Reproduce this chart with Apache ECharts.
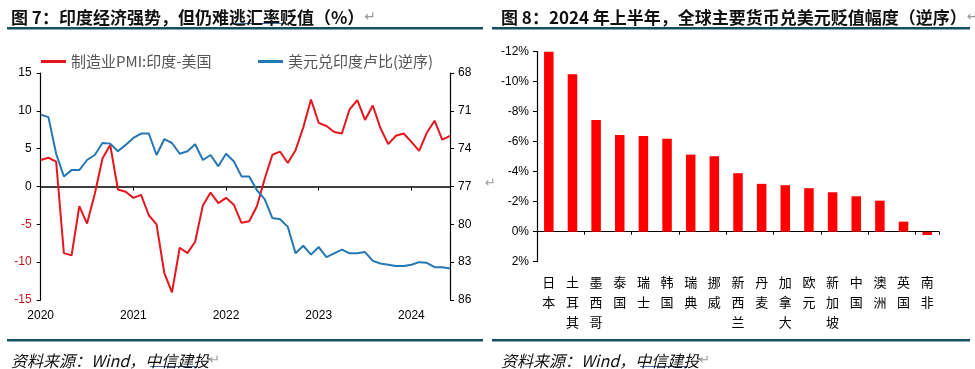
<!DOCTYPE html>
<html>
<head>
<meta charset="utf-8">
<script src="https://cdn.jsdelivr.net/npm/echarts@6/dist/echarts.min.js"></script>
<style>
html,body{margin:0;padding:0;background:#fff;}
#c{width:975px;height:369px;}
</style>
</head>
<body>
<div id="c"></div>
<script>
// ---- Figure 7 data ----
var months = ['2020-01','2020-02','2020-03','2020-04','2020-05','2020-06','2020-07','2020-08','2020-09','2020-10','2020-11','2020-12',
  '2021-01','2021-02','2021-03','2021-04','2021-05','2021-06','2021-07','2021-08','2021-09','2021-10','2021-11','2021-12',
  '2022-01','2022-02','2022-03','2022-04','2022-05','2022-06','2022-07','2022-08','2022-09','2022-10','2022-11','2022-12',
  '2023-01','2023-02','2023-03','2023-04','2023-05','2023-06','2023-07','2023-08','2023-09','2023-10','2023-11','2023-12',
  '2024-01','2024-02','2024-03','2024-04','2024-05','2024-06'];
var pmiDiff = [3.5, 3.8, 3.3, -8.8, -9.1, -2.6, -4.9, -1.0, 3.7, 5.5, -0.4, -0.7,
  -1.5, -1.1, -3.8, -5.0, -11.4, -14.0, -8.1, -8.8, -7.3, -2.5, -0.8, -2.2,
  -1.5, -2.4, -4.8, -4.6, -2.6, 1.0, 4.2, 4.6, 3.1, 4.8, 7.8, 11.5,
  8.4, 8.0, 7.2, 7.0, 10.2, 11.4, 8.8, 10.7, 7.7, 5.6, 6.7, 7.0,
  5.9, 4.7, 7.1, 8.7, 6.2, 6.7];
var usdInr = [71.3, 71.5, 74.4, 76.2, 75.7, 75.7, 74.9, 74.5, 73.55, 73.6, 74.2, 73.7,
  73.15, 72.8, 72.8, 74.5, 73.25, 73.55, 74.4, 74.2, 73.65, 74.9, 74.5, 75.4,
  74.4, 75.0, 76.2, 76.2, 77.3, 78.0, 79.5, 79.6, 80.2, 82.3, 81.7, 82.4,
  81.8, 82.6, 82.3, 82.0, 82.3, 82.3, 82.2, 82.9, 83.1, 83.2, 83.3, 83.3,
  83.2, 83.0, 83.05, 83.4, 83.4, 83.5];
var seriesNames7 = ['制造业PMI:印度-美国', '美元兑印度卢比(逆序)'];

// ---- Figure 8 data ----
var currencies = ['日本','土耳其','墨西哥','泰国','瑞士','韩国','瑞典','挪威','新西兰','丹麦','加拿大','欧元','新加坡','中国','澳洲','英国','南非'];
var depreciation = [-12.05, -10.5, -7.45, -6.44, -6.38, -6.2, -5.14, -5.03, -3.9, -3.19, -3.1, -2.9, -2.63, -2.36, -2.07, -0.67, 0.22];

var titles = ['图 7：印度经济强势，但仍难逃汇率贬值（%）', '图 8：2024 年上半年，全球主要货币兑美元贬值幅度（逆序）'];
var sourceText = '资料来源：Wind，中信建投';

var CJK = '"Noto Sans CJK SC", sans-serif';
var NUM = '"Liberation Sans", Arial, sans-serif';
var RED = '#e5161d', BLUE = '#2577b3', RULE = '#174e62';

var chart = echarts.init(document.getElementById('c'), null, {renderer: 'canvas'});

function titleItem(text, left, top, bold, italic, size) {
  return {
    text: text + '{r|↵}', left: left, top: top,
    textStyle: {fontFamily: CJK, fontSize: size, fontWeight: bold ? 'bold' : 'normal',
      fontStyle: italic ? 'italic' : 'normal', color: '#111',
      rich: {r: {color: '#999', fontSize: size - 3, fontWeight: 'normal', fontStyle: 'normal', fontFamily: '"DejaVu Sans", sans-serif'}}}
  };
}

var axisBlack = {lineStyle: {color: '#000', width: 1.2}};

chart.setOption({
  animation: false,
  backgroundColor: '#fff',
  title: [
    titleItem(titles[0], 6, 4, true, false, 17),
    titleItem(titles[1], 496, 4, true, false, 17),
    titleItem(sourceText, 6, 348, false, true, 16),
    titleItem(sourceText, 496, 348, false, true, 16)
  ],
  graphic: [
    {type: 'rect', shape: {x: 7, y: 27, width: 476, height: 2.5}, style: {fill: RULE}},
    {type: 'rect', shape: {x: 492, y: 27, width: 478, height: 2.5}, style: {fill: RULE}},
    {type: 'rect', shape: {x: 7, y: 339, width: 476, height: 2.5}, style: {fill: RULE}},
    {type: 'rect', shape: {x: 492, y: 339, width: 478, height: 2.5}, style: {fill: RULE}},
    {type: 'rect', shape: {x: 232, y: 23, width: 54, height: 1}, style: {fill: '#4a6fa5'}},
    {type: 'rect', shape: {x: 150, y: 366, width: 48, height: 1}, style: {fill: '#4a6fa5'}},
    {type: 'rect', shape: {x: 640, y: 366, width: 48, height: 1}, style: {fill: '#4a6fa5'}},
    {type: 'text', left: 485, top: 177, style: {text: '↵', fill: '#999', font: '13px "DejaVu Sans"'}}
  ],
  legend: [
    {data: [seriesNames7[0]], left: 36, top: 49, icon: 'rect', itemWidth: 25, itemHeight: 3, itemGap: 4,
      textStyle: {fontFamily: CJK, fontSize: 15, color: '#555'}},
    {data: [seriesNames7[1]], left: 253, top: 49, icon: 'rect', itemWidth: 25, itemHeight: 3, itemGap: 4,
      textStyle: {fontFamily: CJK, fontSize: 15, color: '#555'}}
  ],
  grid: [
    {left: 40.7, right: 525, top: 73, bottom: 69},
    {left: 537, right: 36, top: 51.7, bottom: 107.3}
  ],
  xAxis: [
    {gridIndex: 0, type: 'category', data: months, boundaryGap: false, position: 'bottom',
      axisLine: {show: false, onZero: false}, axisTick: {show: false},
      axisLabel: {interval: function (i) { return i % 12 === 0; }, formatter: function (v) { return v.slice(0, 4); },
        margin: 10, fontFamily: NUM, fontSize: 12, color: '#000'}},
    {gridIndex: 0, type: 'category', data: months, boundaryGap: false, position: 'bottom',
      axisLine: {show: true, onZero: true, onZeroAxisIndex: 0, lineStyle: {color: '#000', width: 1.5}},
      axisTick: {show: true, length: 4, interval: function (i) { return i % 12 === 0 && i > 0; }, lineStyle: {color: '#000'}},
      axisLabel: {show: false}},
    {gridIndex: 1, type: 'category', data: currencies, position: 'bottom',
      axisLine: {show: false, onZero: false}, axisTick: {show: false},
      axisLabel: {interval: 0, formatter: function (v) { return v.split('').join('\n'); },
        margin: 10, lineHeight: 20, fontFamily: CJK, fontSize: 13, color: '#000'}},
    {gridIndex: 1, type: 'category', data: currencies, position: 'bottom',
      axisLine: {show: true, onZero: true, lineStyle: {color: '#000', width: 1.2}},
      axisTick: {show: true, length: 3, lineStyle: {color: '#000'}},
      axisLabel: {show: false}}
  ],
  yAxis: [
    {gridIndex: 0, type: 'value', min: -15, max: 15, interval: 5, position: 'left',
      axisLine: Object.assign({show: true}, axisBlack), axisTick: {show: true, length: 4, lineStyle: {color: '#000'}},
      splitLine: {show: false},
      axisLabel: {margin: 9, fontFamily: NUM, fontSize: 12, color: function (v) { return Number(v) < 0 ? '#c0161c' : '#000'; }}},
    {gridIndex: 0, type: 'value', min: 68, max: 86, interval: 3, inverse: true, position: 'right',
      axisLine: Object.assign({show: true}, axisBlack), axisTick: {show: true, length: 4, lineStyle: {color: '#000'}},
      splitLine: {show: false},
      axisLabel: {margin: 8, fontFamily: NUM, fontSize: 12, color: '#000'}},
    {gridIndex: 1, type: 'value', min: -12, max: 2, interval: 2, inverse: true, position: 'left',
      axisLine: Object.assign({show: true}, axisBlack), axisTick: {show: true, length: 4, lineStyle: {color: '#000'}},
      splitLine: {show: false},
      axisLabel: {margin: 8, fontFamily: NUM, fontSize: 12, color: '#000', formatter: '{value}%'}}
  ],
  series: [
    {name: seriesNames7[0], type: 'line', xAxisIndex: 0, yAxisIndex: 0, data: pmiDiff,
      symbol: 'none', lineStyle: {color: RED, width: 2}, itemStyle: {color: RED}},
    {name: seriesNames7[1], type: 'line', xAxisIndex: 0, yAxisIndex: 1, data: usdInr,
      symbol: 'none', lineStyle: {color: BLUE, width: 2}, itemStyle: {color: BLUE}},
    {name: '贬值幅度', type: 'bar', xAxisIndex: 2, yAxisIndex: 2, data: depreciation,
      barWidth: 9.5, itemStyle: {color: '#ff0000'}}
  ]
});
</script>
</body>
</html>
